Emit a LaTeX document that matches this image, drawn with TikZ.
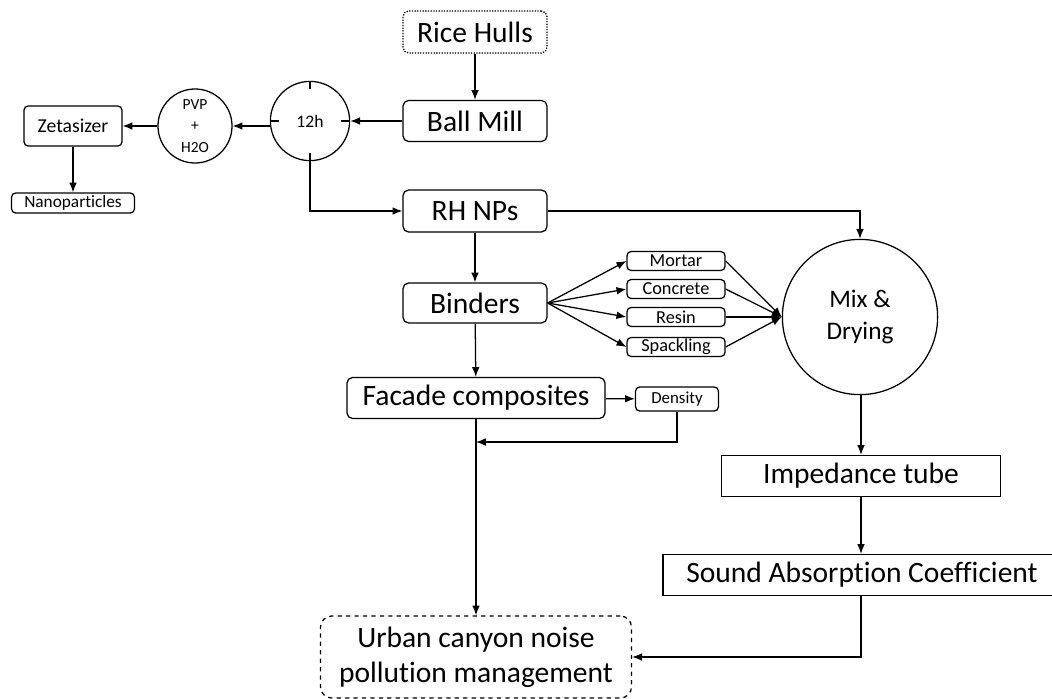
\documentclass[tikz,border=0pt]{standalone}
\usepackage{fontspec}
\setmainfont{Carlito}[Ligatures=NoCommon]
\usetikzlibrary{shapes,arrows,arrows.meta,positioning}

\begin{document}
\begin{tikzpicture}[x=0.025cm,y=-0.025cm]
			\tikzstyle{Box}		= [draw, rounded corners=4pt, line width=0.9pt, inner sep=0pt, align=center]
			\tikzstyle{Big}		= [Box, font=\fontsize{21}{24}\selectfont]
			\tikzstyle{Small}	= [Box, rounded corners=3pt, font=\fontsize{13}{14}\selectfont]
			\tikzstyle{Circ}	= [circle, draw, line width=0.9pt, inner sep=0pt, align=center]
			\tikzstyle{Flow}	= [line width=0.9pt, -{Latex[length=7pt,width=5.5pt]}]
			\tikzstyle{Plain}	= [line width=0.9pt]

			\useasboundingbox (0,0) rectangle (1052,698);

			\node (hulls) at (475,32) [Big, densely dotted, minimum width=3.6cm, minimum height=1.05cm] {Rice Hulls};
			\node (mill) at (475,121) [Big, minimum width=3.6cm, minimum height=1.025cm] {Ball Mill};
			\node (t12) at (310,121) [Circ, minimum size=1.98cm, font=\fontsize{12.5}{14}\selectfont] {12h};
			\node (pvp) at (195,126) [Circ, minimum size=1.85cm, font=\fontsize{11}{15}\selectfont] {PVP\\+\\H2O};
			\node (zeta) at (73,126) [Small, minimum width=2.45cm, minimum height=1cm, font=\fontsize{14}{16}\selectfont] {Zetasizer};
			\node (nano) at (73,203) [Small, minimum width=3.075cm, minimum height=0.5cm, font=\fontsize{12.3}{14}\selectfont] {Nanoparticles};
			\node (rh) at (475,211) [Big, minimum width=3.6cm, minimum height=1.05cm] {RH NPs};
			\node (bind) at (475,303) [Big, minimum width=3.6cm, minimum height=1cm] {Binders};
			\node (mortar) at (676,261) [Small, minimum width=2.45cm, minimum height=0.475cm] {Mortar};
			\node (concrete) at (676,289) [Small, minimum width=2.45cm, minimum height=0.475cm] {Concrete};
			\node (resin) at (676,317) [Small, minimum width=2.45cm, minimum height=0.475cm] {Resin};
			\node (spack) at (676,347) [Small, minimum width=2.45cm, minimum height=0.475cm] {Spackling};
			\node (mix) at (860,317) [Circ, minimum size=3.88cm, font=\fontsize{18}{23}\selectfont] {Mix \&\\Drying};
			\node (facade) at (476,398) [Big, minimum width=6.45cm, minimum height=1.025cm] {Facade composites};
			\node (dens) at (677,399) [Small, minimum width=2.075cm, minimum height=0.6cm, font=\fontsize{12}{14}\selectfont] {Density};
			\node (imp) at (861,476) [Big, minimum width=6.975cm, minimum height=1.025cm, rounded corners=0pt] {Impedance tube};
			\node (sac) at (862,575) [Big, minimum width=9.95cm, minimum height=1.025cm, rounded corners=0pt] {Sound Absorption Coefficient};
			\node (urban) at (476,657) [Big, dashed, minimum width=7.775cm, minimum height=2.05cm, rounded corners=8pt, font=\fontsize{21}{25}\selectfont] {Urban canyon noise\\pollution management};
			\coordinate (dj) at (476,442);

			% ticks on the 12h dial
			\draw [Plain] (t12.north) -- ++(0,8);
			\draw [Plain] (t12.south) -- ++(0,-8);
			\draw [Plain] (t12.west) -- ++(9,0);
			\draw [Plain] (t12.east) -- ++(-9,0);

			\draw [Flow] (hulls) -- (mill);
			\draw [Flow] (mill.west) -- (mill.west -| t12.east);
			\draw [Flow] (t12.west |- pvp.east) -- (pvp.east);
			\draw [Flow] (pvp.west) -- (pvp.west -| zeta.east);
			\draw [Flow] (zeta) -- (nano);
			\draw [Flow] (t12.south) |- (rh.west);
			\draw [Flow] (rh.east) -| (mix.north);
			\draw [Flow] (rh) -- (bind);
			\draw [Flow] (bind.east) -- (mortar.west);
			\draw [Flow] (bind.east) -- (concrete.west);
			\draw [Flow] (bind.east) -- (resin.west);
			\draw [Flow] (bind.east) -- (spack.west);
			\draw [Flow] (mortar.east) -- (mix.west);
			\draw [Flow] (concrete.east) -- (mix.west);
			\draw [Flow] (resin.east) -- (mix.west);
			\draw [Flow] (spack.east) -- (mix.west);
			\draw [Flow] (bind) -- (facade);
			\draw [Flow] (facade) -- (dens);
			\draw [Flow] (dens.south) |- (dj);
			\draw [Flow] (facade) -- (urban);
			\draw [Flow] (mix.south -| imp.north) -- (imp.north);
			\draw [Flow] (imp.south) -- (imp.south |- sac.north);
			\draw [Flow] (sac.south -| imp.south) |- (urban.east);
		\end{tikzpicture}
\end{document}
